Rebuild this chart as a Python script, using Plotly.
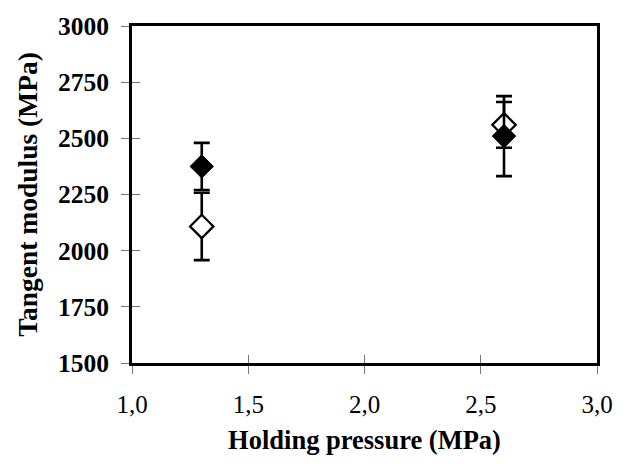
import plotly.graph_objects as go

# Holding pressure (MPa)
pressure = [1.3, 2.6]

# Tangent modulus (MPa), two sample series with standard deviations
modulus_open = [2108, 2560]
err_open = [150, 102]
modulus_filled = [2375, 2510]
err_filled = [105, 178]

x_ticks = [1.0, 1.5, 2.0, 2.5, 3.0]
y_ticks = [1500, 1750, 2000, 2250, 2500, 2750, 3000]

serif = "Liberation Serif, Times New Roman, serif"

fig = go.Figure()

fig.add_trace(go.Scatter(
    x=pressure, y=modulus_open, mode="markers",
    marker=dict(symbol="diamond", size=18, color="white",
                line=dict(color="black", width=2.2)),
    error_y=dict(type="data", array=err_open, visible=True,
                 color="black", thickness=2.6, width=8),
    showlegend=False,
))
fig.add_trace(go.Scatter(
    x=pressure, y=modulus_filled, mode="markers",
    marker=dict(symbol="diamond", size=18, color="black",
                line=dict(color="black", width=1)),
    error_y=dict(type="data", array=err_filled, visible=True,
                 color="black", thickness=2.6, width=8),
    showlegend=False,
))

# Invisible carrier for the inner half of the crossing tick marks
fig.add_trace(go.Scatter(x=[None], y=[None], xaxis="x2", yaxis="y2",
                         showlegend=False, hoverinfo="skip"))

fig.update_layout(
    width=628, height=467,
    margin=dict(l=131.5, r=30.5, t=19.5, b=103.5),
    paper_bgcolor="white", plot_bgcolor="white",
    separators=",.",
    font=dict(family=serif, color="black"),
    xaxis=dict(
        range=[1.0, 3.0], tickvals=x_ticks, tickformat=".1f",
        ticks="outside", ticklen=8, tickwidth=1, tickcolor="#777",
        ticklabelstandoff=9,
        tickfont=dict(family=serif, size=25, color="black"),
        showline=True, linecolor="black", linewidth=3, mirror=True,
        showgrid=False, zeroline=False,
        title=dict(text="Holding pressure (MPa)",
                   font=dict(family=serif, size=26.5, color="black",
                             weight="bold"),
                   standoff=14),
    ),
    yaxis=dict(
        range=[1500, 3000], tickvals=y_ticks,
        ticks="outside", ticklen=8, tickwidth=1, tickcolor="#777",
        ticklabelstandoff=7,
        tickfont=dict(family=serif, size=25.5, color="black", weight="bold"),
        showline=True, linecolor="black", linewidth=3, mirror=True,
        showgrid=False, zeroline=False,
        title=dict(text="Tangent modulus (MPa)",
                   font=dict(family=serif, size=27.5, color="black",
                             weight="bold"),
                   standoff=13),
    ),
    xaxis2=dict(range=[1.0, 3.0], tickvals=x_ticks, overlaying="x",
                ticks="inside", ticklen=8, tickwidth=1, tickcolor="#777",
                showticklabels=False, showgrid=False, zeroline=False,
                showline=False),
    yaxis2=dict(range=[1500, 3000], tickvals=y_ticks, overlaying="y",
                ticks="inside", ticklen=8, tickwidth=1, tickcolor="#777",
                showticklabels=False, showgrid=False, zeroline=False,
                showline=False),
)

fig.write_html("out.html")
